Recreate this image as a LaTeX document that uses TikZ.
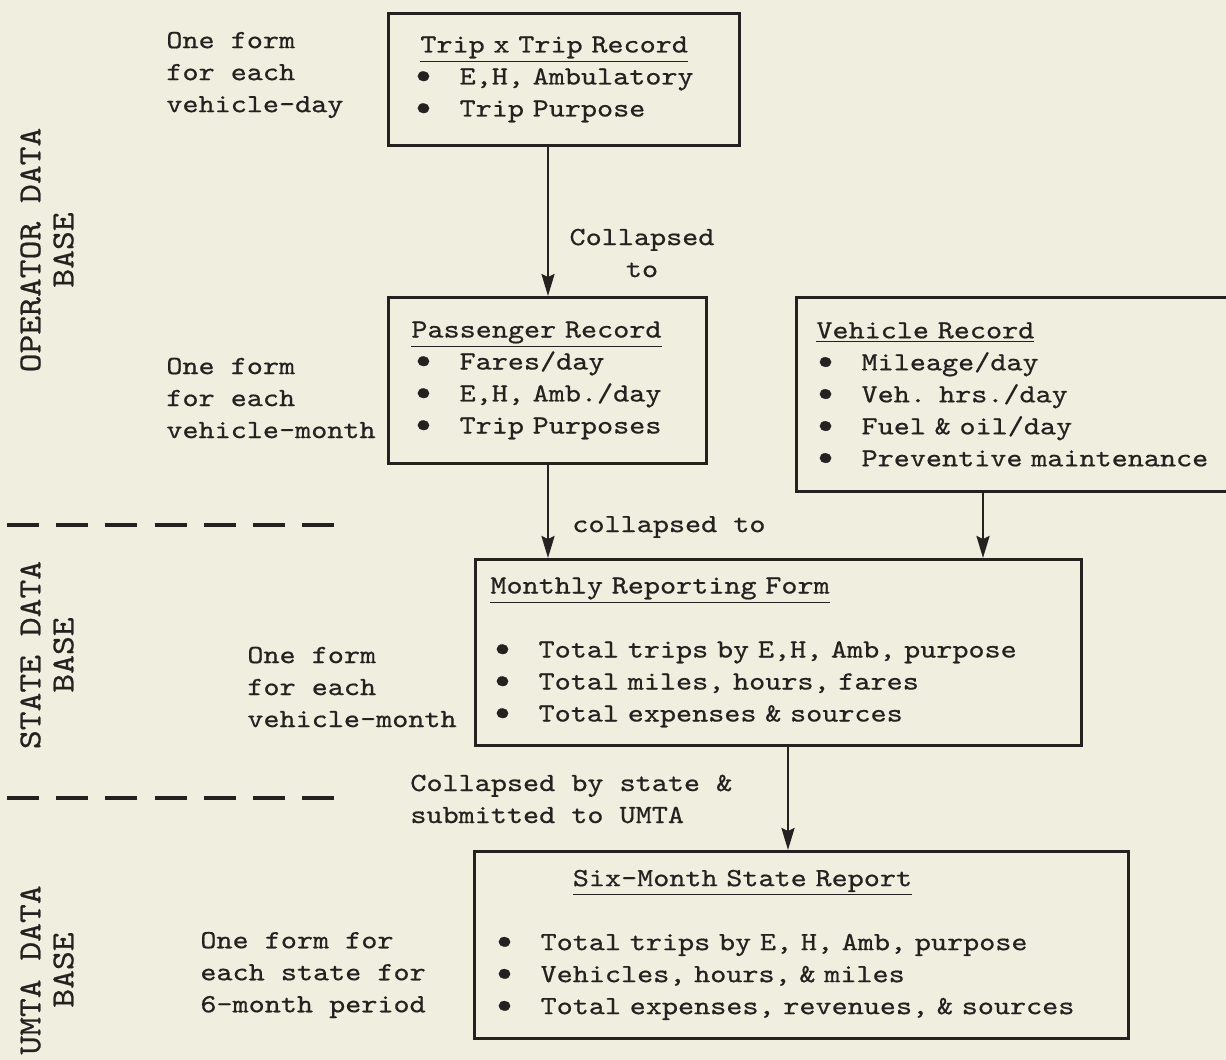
\documentclass[tikz,border=0pt]{standalone}
\usepackage{fontspec}
\setmainfont{Liberation Serif}
\newfontfamily\twfont[FakeStretch=1.17,FakeBold=0.6]{lmmono10-regular.otf}
\newfontfamily\rtfont[FakeStretch=1.12,FakeBold=0.6]{lmmono10-regular.otf}
\usetikzlibrary{arrows.meta,calc}
\definecolor{paper}{RGB}{240,238,223}
\definecolor{ink}{RGB}{38,33,33}
\newcommand\btfont{\fontsize{13.1}{16}\selectfont\twfont}
\newcommand\rotfont{\fontsize{16}{16.5}\selectfont\rtfont}
\newcommand\ttl[1]{\mbox{\underline{#1}}}
\newcommand\bl[1]{\mbox{\makebox[24.1pt][l]{\hspace*{0.6pt}\scalebox{1.35}{\textbullet}}#1}}
\begin{document}
\begin{tikzpicture}[x=0.5pt,y=-0.5pt,
  box/.style={draw=ink, line width=1.4pt, anchor=north west, inner ysep=0pt,
              align=left, font=\btfont, text=ink},
  lbl/.style={font=\btfont, text=ink, align=left, inner sep=0pt},
  rlbl/.style={font=\rotfont, text=ink, align=center, inner sep=0pt, rotate=90},
  arr/.style={draw=ink, line width=1.3pt, -{Stealth[length=11pt,width=6.5pt,inset=1.5pt]}},
  sep/.style={draw=ink, line width=2pt, dash pattern=on 16pt off 8.6pt}]
\path[use as bounding box, clip] (0,0) rectangle (1226,1060);
\fill[paper] (0,0) rectangle (1226,1060);

% boxes
\node[box, inner xsep=11.5pt, text width=152.5pt, minimum height=66pt] (trip) at (387,12)
  {\hspace*{4.5pt}\ttl{Trip x Trip Record}\\ \bl{E,H, Ambulatory}\\ \bl{Trip Purpose}};
\node[box, inner xsep=11.5pt, text width=136pt, minimum height=83pt] (passenger) at (387,296)
  {\ttl{Passenger Record}\\ \bl{Fares/day}\\ \bl{E,H, Amb./day}\\ \bl{Trip Purposes}};
\node[box, inner xsep=8.5pt, text width=205.5pt, minimum height=97pt] (vehicle) at (795,296)
  {\hspace*{1.5pt}\ttl{Vehicle Record}\\ \bl{Mileage/day}\\ \bl{Veh. hrs./day}\\ \bl{Fuel \& oil/day}\\ \bl{Preventive maintenance}};
\node[box, inner xsep=7.5pt, text width=288pt, minimum height=93pt] (monthly) at (474,558)
  {\ttl{Monthly Reporting Form}\\[16pt] \bl{Total trips by E,H, Amb, purpose}\\ \bl{Total miles, hours, fares}\\ \bl{Total expenses \& sources}};
\node[box, inner xsep=9pt, text width=309pt, minimum height=93.5pt] (sixmonth) at (473,850)
  {\hspace*{40.2pt}\ttl{Six-Month State Report}\\[16pt] \bl{Total trips by E, H, Amb, purpose}\\ \bl{Vehicles, hours, \& miles}\\ \bl{Total expenses, revenues, \& sources}};

% drop points for the connectors
\coordinate (pdrop) at (548,0);
\coordinate (vdrop) at (983,0);
\coordinate (mdrop) at (788,0);

% connectors
\draw[arr] (trip.south -| pdrop) -- (passenger.north -| pdrop);
\draw[arr] (passenger.south -| pdrop) -- (monthly.north -| pdrop);
\draw[arr] (vehicle.south -| vdrop) -- (monthly.north -| vdrop);
\draw[arr] (monthly.south -| mdrop) -- (sixmonth.north -| mdrop);

% connector labels
\node[lbl, align=center] (c1) at (642,253) {Collapsed\\to};
\node[lbl, anchor=west] (c2) at (572,527) {collapsed to};
\node[lbl, anchor=west] (c3) at (410,799) {Collapsed by state \&\\submitted to UMTA};

% side notes
\node[lbl, anchor=west] (l1) at (166,75) {One form\\for each\\vehicle-day};
\node[lbl, anchor=west] (l2) at (166,398) {One form\\for each\\vehicle-month};
\node[lbl, anchor=west] (l3) at (247,687) {One form\\for each\\vehicle-month};
\node[lbl, anchor=west] (l4) at (200,975) {One form for\\each state for\\6-month period};

% level labels
\node[rlbl] (r1) at (47,250) {OPERATOR DATA\\BASE};
\node[rlbl] (r2) at (47,655) {STATE DATA\\BASE};
\node[rlbl] (r3) at (47,970) {UMTA DATA\\BASE};

% separators
\draw[sep] (7,525) -- (336,525);
\draw[sep] (7,798) -- (336,798);
\end{tikzpicture}
\end{document}
